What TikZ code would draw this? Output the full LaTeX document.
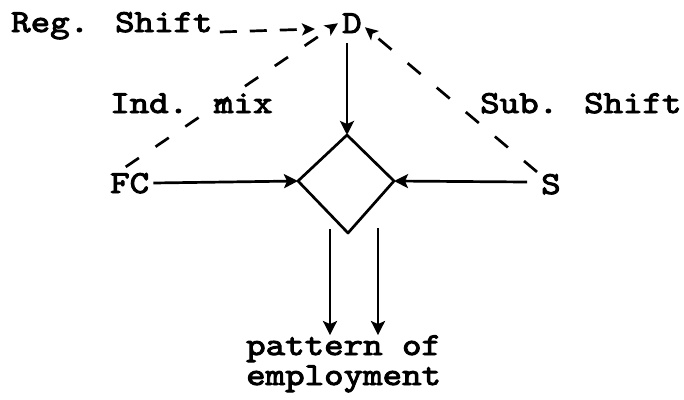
\documentclass[tikz,border=0pt]{standalone}
\usepackage{fontspec}
\newfontfamily\typer{lmmono10-regular.otf}[FakeStretch=1.16, FakeBold=3]
\usetikzlibrary{arrows.meta,calc}

\begin{document}
\begin{tikzpicture}[x=1pt,y=-1pt,
  lbl/.style={inner sep=0pt, anchor=base west,
    font=\typer\fontsize{32}{28}\selectfont},
  tip/.style={-{Stealth[length=14pt,width=14pt,inset=3pt]}},
  edge/.style={line width=2.7pt, line join=round},
  link/.style={edge, tip},
  dashlink/.style={line width=2.7pt, dash pattern=on 16pt off 20pt,
    -{Stealth[length=13pt,width=12pt,inset=3pt]}}]

  \useasboundingbox (0,0) rectangle (684,399);

  % labels typed on the page
  \node[lbl] (reg)  at (11,32)   {Reg. Shift};
  \node[lbl] (D)    at (342,33)  {D};
  \node[lbl] (ind)  at (110,113) {Ind. mix};
  \node[lbl] (sub)  at (480,113) {Sub. Shift};
  \node[lbl] (FC)   at (110,193) {FC};
  \node[lbl] (S)    at (541,194) {S};
  \node[lbl] (pat1) at (246,355) {pattern of};
  \node[lbl] (pat2) at (246,385) {employment};

  % the central diamond
  \coordinate (dt) at (347,135);
  \coordinate (dl) at (298,181);
  \coordinate (dr) at (394,181);
  \coordinate (db) at (348,233);
  \draw[edge] (dt) -- (dr) -- (db) -- (dl) -- cycle;

  % solid flows into the diamond
  \draw[link] ($(dt |- D.south)+(0,10)$) -- (dt);
  \draw[link] ($(FC.east |- dl)+(4,2)$) -- (dl);
  \draw[link] ($(S.west |- dr)+(-14,1)$) -- (dr);

  % two outputs below the diamond
  \coordinate (o1) at (330,229);
  \coordinate (o2) at (378,228);
  \draw[link] (o1) -- (o1 |- pat1.north);
  \draw[link] (o2) -- (o2 |- pat1.north);

  % dashed shift components pointing at D
  \draw[dashlink, dash pattern=on 17pt off 13pt]
    ($(reg.base east)+(7,0)$) -- ($(D.base west)+(-27,-4)$);
  \draw[dashlink] ($(FC.north)+(-4,-6)$) -- ($(D.west)+(-4,0)$);
  \draw[dashlink, dash pattern=on 17pt off 21pt]
    ($(S.north west)+(-4,-2)$) -- ($(D.east)+(3,4)$);
\end{tikzpicture}
\end{document}
